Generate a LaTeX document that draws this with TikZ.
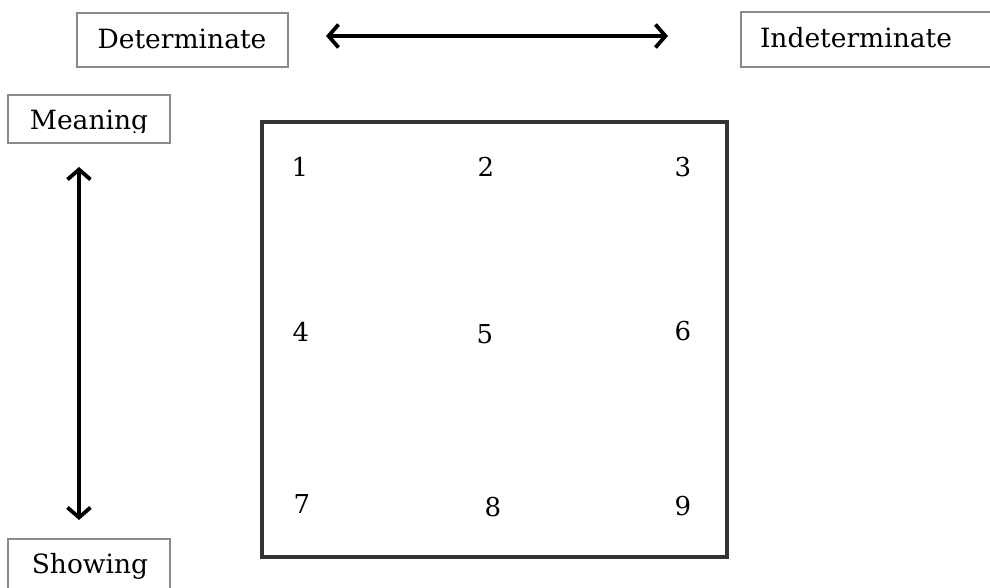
\documentclass[tikz,border=0pt]{standalone}
\usepackage{fontspec}
\setmainfont{DejaVu Serif}
\usetikzlibrary{arrows.meta}
\definecolor{boxgray}{HTML}{8A8A8A}
\definecolor{framegray}{HTML}{333333}
\tikzset{
  box/.style={draw=boxgray, line width=1.3pt, fill=white, inner sep=0pt},
  lbl/.style={anchor=base, inner sep=0pt, font=\fontsize{26.5}{30}\selectfont},
  num/.style={inner sep=0pt, font=\fontsize{26}{30}\selectfont},
  dblarrow/.style={line width=3.8pt, {Straight Barb[length=10pt,width=23pt]}-{Straight Barb[length=10pt,width=23pt]}},
  frame/.style={draw=framegray, line width=4pt, inner sep=0pt}
}
\begin{document}
\begin{tikzpicture}[x=1pt,y=-1pt]
\useasboundingbox (0,0) rectangle (990,588);
\fill[white] (0,0) rectangle (990,588);
% top boxes
\node[box, minimum width=211pt, minimum height=54pt] (det) at (182.5,40) {};
\node[lbl] (dettxt) at (182,49) {Determinate};
\node[box, minimum width=260pt, minimum height=55pt] (indet) at (871,39.5) {};
\node[lbl] (indettxt) at (856,48) {Indeterminate};
% horizontal arrow
\coordinate (hl) at (326,36);
\coordinate (hr) at (668,36);
\draw[dblarrow] (hl) -- (hr);
% left boxes
\node[box, minimum width=162pt, minimum height=48pt] (mean) at (89,119) {};
\begin{scope}
\clip (8,95) rectangle (170,133);
\node[lbl] (meantxt) at (89,130) {Meaning};
\end{scope}
\node[box, minimum width=162pt, minimum height=80pt] (show) at (89,579) {};
\node[lbl] (showtxt) at (90,573) {Showing};
% vertical arrow
\coordinate (vt) at (79,167);
\coordinate (vb) at (79,520);
\draw[dblarrow] (vt) -- (vb);
% big square
\node[frame, minimum width=465pt, minimum height=435pt] (sq) at (494.5,339.5) {};
% numbers
\node[num] (n1) at (300,167) {1};
\node[num] (n2) at (486,167) {2};
\node[num] (n3) at (683,167) {3};
\node[num] (n4) at (301,332) {4};
\node[num] (n5) at (485,334) {5};
\node[num] (n6) at (683,331) {6};
\node[num] (n7) at (302,504) {7};
\node[num] (n8) at (493,507) {8};
\node[num] (n9) at (683,506) {9};
\end{tikzpicture}
\end{document}
